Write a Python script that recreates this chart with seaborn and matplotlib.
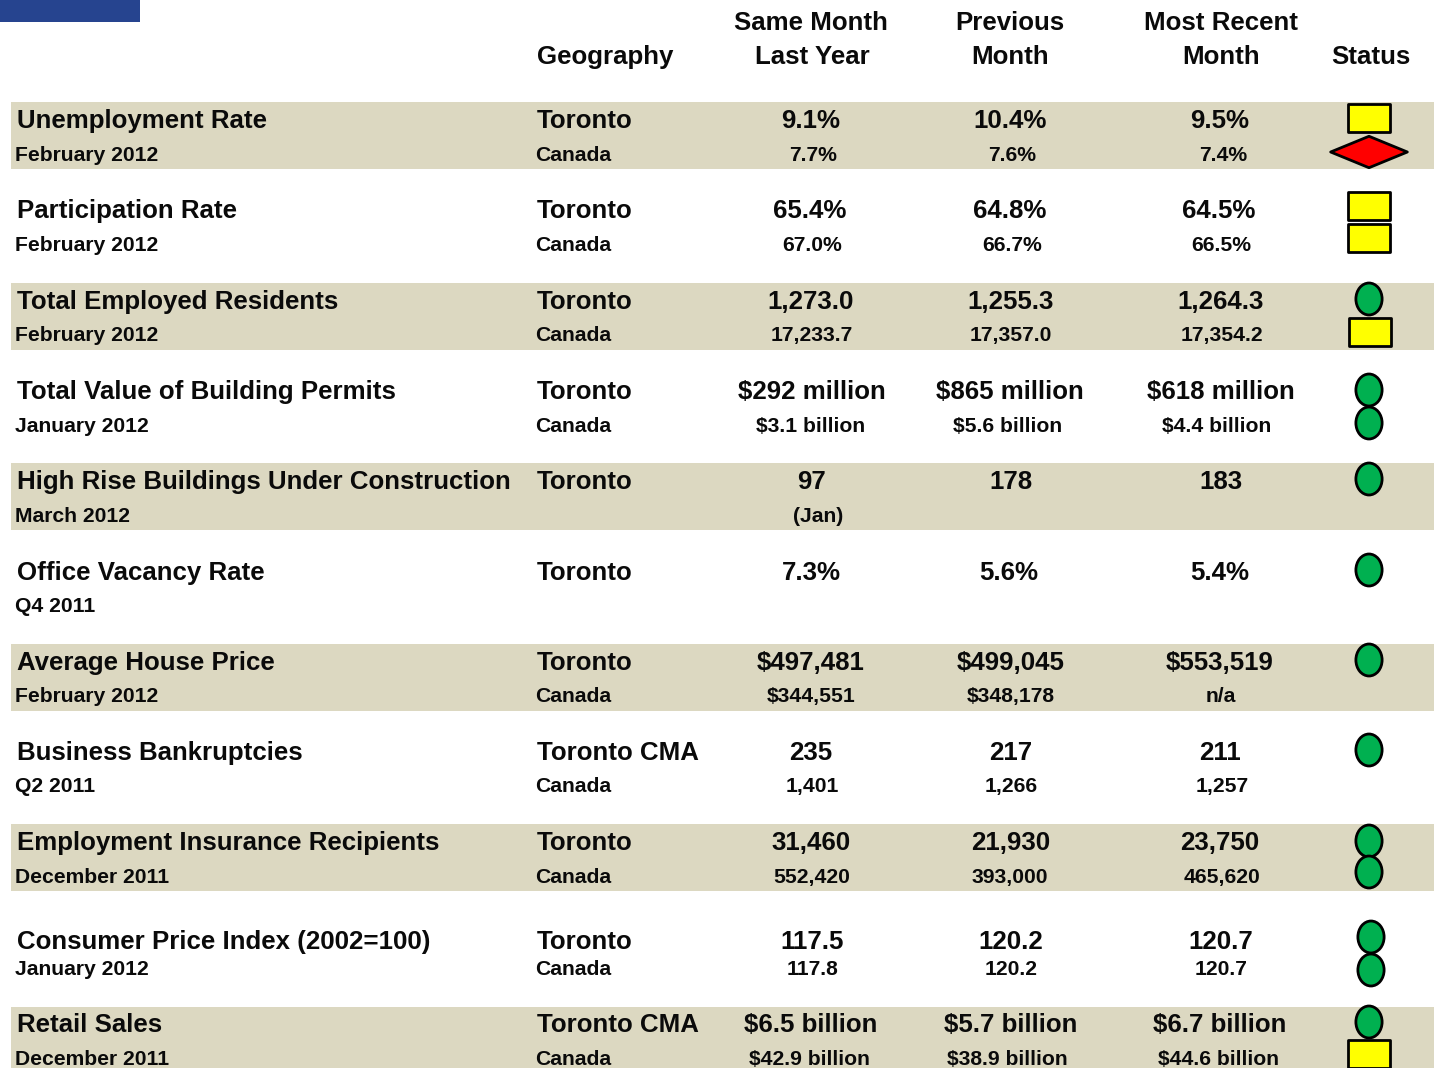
import matplotlib
matplotlib.use('Agg')
import matplotlib.pyplot as plt
from matplotlib.path import Path
from matplotlib.transforms import Affine2D
import pandas as pd
import seaborn as sns

# Table content
measures = ['Unemployment Rate', 'Participation Rate', 'Total Employed Residents',
            'Total Value of Building Permits', 'High Rise Buildings Under Construction',
            'Office Vacancy Rate', 'Average House Price', 'Business Bankruptcies',
            'Employment Insurance Recipients', 'Consumer Price Index (2002=100)', 'Retail Sales']
dates = ['February 2012', 'February 2012', 'February 2012', 'January 2012', 'March 2012', 'Q4 2011',
         'February 2012', 'Q2 2011', 'December 2011', 'January 2012', 'December 2011']
geo_top = ['Toronto', 'Toronto', 'Toronto', 'Toronto', 'Toronto', 'Toronto',
           'Toronto', 'Toronto CMA', 'Toronto', 'Toronto', 'Toronto CMA']
geo_bottom = ['Canada', 'Canada', 'Canada', 'Canada', '', '', 'Canada', 'Canada', 'Canada', 'Canada', 'Canada']

last_year_top = ['9.1%', '65.4%', '1,273.0', '$292 million', '97', '7.3%', '$497,481', '235', '31,460', '117.5', '$6.5 billion']
last_year_bottom = ['7.7%', '67.0%', '17,233.7', '$3.1 billion', '(Jan)', '', '$344,551', '1,401', '552,420', '117.8', '$42.9 billion']
prev_month_top = ['10.4%', '64.8%', '1,255.3', '$865 million', '178', '5.6%', '$499,045', '217', '21,930', '120.2', '$5.7 billion']
prev_month_bottom = ['7.6%', '66.7%', '17,357.0', '$5.6 billion', '', '', '$348,178', '1,266', '393,000', '120.2', '$38.9 billion']
recent_top = ['9.5%', '64.5%', '1,264.3', '$618 million', '183', '5.4%', '$553,519', '211', '23,750', '120.7', '$6.7 billion']
recent_bottom = ['7.4%', '66.5%', '17,354.2', '$4.4 billion', '', '', 'n/a', '1,257', '465,620', '120.7', '$44.6 billion']

status_top = ['yellow', 'yellow', 'green', 'green', 'green', 'green', 'green', 'green', 'green', 'green', 'green']
status_bottom = ['red', 'yellow', 'yellow', 'green', None, None, None, None, 'green', 'green', 'yellow']

# Layout, in pixels of the 1434x1068 picture
y_top = [119, 209, 300, 390, 480, 571, 661, 751, 841, 940, 1023]
y_bottom = [153, 243, 333, 424, 514, 604, 694, 784, 875, 967, 1057]
bands = [(102, 169), (283, 350), (463, 530), (644, 711), (824, 891), (1007, 1068)]

x_top = [[811, 810, 811, 812, 812, 811, 811, 811, 811, 812, 811],
         [1010, 1010, 1011, 1010, 1011, 1009, 1011, 1011, 1011, 1011, 1011],
         [1220, 1219, 1221, 1221, 1221, 1220, 1220, 1220, 1220, 1221, 1220]]
x_bottom = [[813, 812, 812, 811, 818, 811, 811, 812, 812, 813, 809],
            [1012, 1012, 1011, 1008, 1011, 1011, 1011, 1011, 1010, 1011, 1007],
            [1223, 1221, 1222, 1217, 1221, 1221, 1221, 1222, 1222, 1221, 1218]]

status_x_top = [1369, 1369, 1369, 1369, 1369, 1369, 1369, 1369, 1369, 1371, 1369]
status_x_bottom = [1369, 1369, 1370, 1369, 1369, 1369, 1369, 1369, 1369, 1371, 1369]
status_y_top = [118, 206, 299, 390, 479, 570, 660, 750, 841, 937, 1022]
status_y_bottom = [152, 238, 332, 423, 0, 0, 0, 0, 872, 970, 1054]

sns.set_theme(style='white')
plt.rcParams['font.family'] = ['Liberation Sans', 'DejaVu Sans']
plt.rcParams['font.weight'] = 'bold'

fig = plt.figure(figsize=(14.34, 10.68), dpi=100)
ax = fig.add_axes([0, 0, 1, 1])
ax.set_xlim(0, 1434)
ax.set_ylim(1068, 0)
ax.axis('off')

# Header block and row bands
ax.fill_between([0, 140], 0, 22, color='#26448f', lw=0, zorder=1)
for top, bottom in bands:
    ax.fill_between([11, 1434], top, bottom, color='#dcd8c1', lw=0, zorder=1)

big = 18.65
small = 15.25
ink = '#0a0a0a'


def cell(x, y, s, size, ha='center'):
    ax.text(x, y, s, fontsize=size, ha=ha, va='baseline', color=ink, fontweight='bold', zorder=3)


# Column headers
cell(537, 64, 'Geography', big, 'left')
cell(811, 30, 'Same Month', big)
cell(812, 64, 'Last Year', big)
cell(1010, 30, 'Previous', big)
cell(1010, 64, 'Month', big)
cell(1221, 30, 'Most Recent', big)
cell(1221, 64, 'Month', big)
cell(1371, 64, 'Status', big)

# Rows
tops = [last_year_top, prev_month_top, recent_top]
bottoms = [last_year_bottom, prev_month_bottom, recent_bottom]
for i in range(len(measures)):
    cell(17, y_top[i] + 9, measures[i], big, 'left')
    cell(15, y_bottom[i] + 8, dates[i], small, 'left')
    cell(537, y_top[i] + 9, geo_top[i], big, 'left')
    cell(535, y_bottom[i] + 8, geo_bottom[i], small, 'left')
    for c in range(3):
        cell(x_top[c][i], y_top[i] + 9, tops[c][i], big)
        cell(x_bottom[c][i], y_bottom[i] + 8, bottoms[c][i], small)

# Status markers
rows = []
for i in range(len(measures)):
    rows.append((status_x_top[i], status_y_top[i], status_top[i]))
    if status_bottom[i]:
        rows.append((status_x_bottom[i], status_y_bottom[i], status_bottom[i]))
df = pd.DataFrame(rows, columns=['x', 'y', 'status'])

rect_path = Path([(-21, -14), (21, -14), (21, 14), (-21, 14), (-21, -14)], closed=True)
diamond_path = Path([(-39, 0), (0, -16), (39, 0), (0, 16), (-39, 0)], closed=True)
oval_path = Path.unit_circle().transformed(Affine2D().scale(0.82, 1.0))

sns.scatterplot(data=df, x='x', y='y', hue='status', style='status', size='status', ax=ax,
                palette={'yellow': '#ffff00', 'red': '#ff0000', 'green': '#00b050'},
                markers={'yellow': rect_path, 'red': diamond_path, 'green': oval_path},
                sizes={'yellow': 880, 'red': 3050, 'green': 530},
                edgecolor='black', linewidth=2.0, legend=False, zorder=2, clip_on=True)
ax.set_xlabel('')
ax.set_ylabel('')

fig.savefig('out.png', dpi=100)
